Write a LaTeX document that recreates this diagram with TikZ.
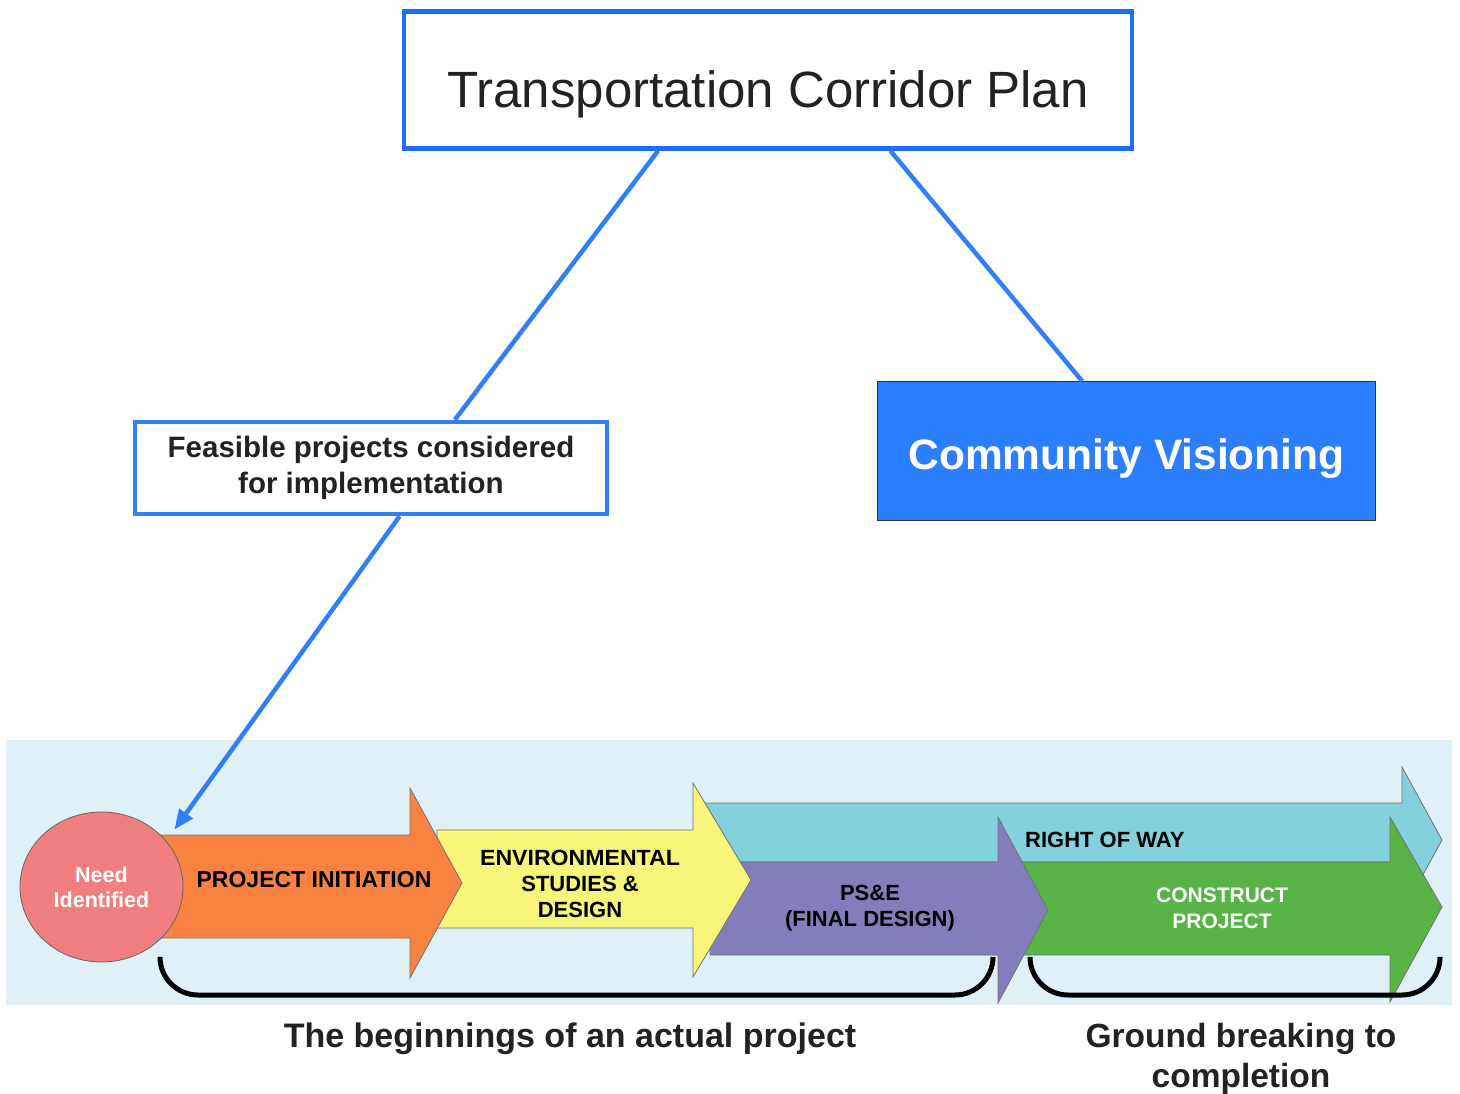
\documentclass[tikz,border=0pt]{standalone}
\usepackage{fontspec}
\setmainfont{Liberation Sans}
\usetikzlibrary{calc,positioning,arrows.meta,shapes.geometric}
\definecolor{boxBlue}{HTML}{1A6EFA}
\definecolor{lineBlue}{HTML}{2F80F7}
\definecolor{visionC}{HTML}{2B7FFF}
\definecolor{panelC}{HTML}{DFF0F7}
\definecolor{needC}{HTML}{F27F7F}
\definecolor{initC}{HTML}{F8823F}
\definecolor{envC}{HTML}{F8F57A}
\definecolor{rowC}{HTML}{82D1DD}
\definecolor{pseC}{HTML}{837EBB}
\definecolor{buildC}{HTML}{58B447}
\definecolor{textC}{HTML}{222222}

\newcommand{\fsz}[1]{\fontsize{#1}{#1}\selectfont}

\begin{document}
\begin{tikzpicture}[x=1pt,y=-1pt,
  planbox/.style={draw=boxBlue,line width=4.5pt,fill=white,inner sep=0pt},
  link/.style={lineBlue,line width=4.5pt},
  stage/.style={draw=black!55,line width=0.8pt},
  stagelabel/.style={font=\bfseries\fontsize{22}{26}\selectfont,align=center,inner sep=0pt},
  bracket/.style={black,line width=5pt,rounded corners=38pt}]
  \useasboundingbox (0,0) rectangle (1460,1094);

  % plan and vision boxes
  \node[planbox,minimum width=728,minimum height=137,text height=56pt,text depth=0pt,
        font=\fsz{51},text=textC] (tcp) at (768,80) {Transportation Corridor Plan};
  \node[planbox,draw=lineBlue,minimum width=472,minimum height=92,align=center,
        font=\bfseries\fontsize{29.5}{36}\selectfont,text=textC] (feas) at (371,468)
    {Feasible projects considered\\for implementation};
  \node[draw=black!80,line width=1pt,fill=visionC,minimum width=498,minimum height=139,
        text height=36pt,text depth=0pt,font=\bfseries\fsz{42.5},text=white] (vision) at (1126.5,451)
    {Community Visioning};

  \draw[link] ($(tcp.south west)!0.35!(tcp.south east)$) -- ($(feas.north west)!0.676!(feas.north east)$);
  \draw[link] ($(tcp.south west)!0.667!(tcp.south east)$) -- ($(vision.north west)!0.411!(vision.north east)$);

  % project development panel
  \fill[panelC] (6,740) rectangle (1452,1005);

  % stage arrows, back to front
  \filldraw[stage,fill=rowC] (705,803) -- (1402,803) -- (1402,767) -- (1442,840)
    -- (1402,913) -- (1402,862) -- (705,862) -- cycle;
  \filldraw[stage,fill=buildC] (1000,862) -- (1390,862) -- (1390,817) -- (1442,907)
    -- (1390,1002) -- (1390,955) -- (1000,955) -- cycle;
  \filldraw[stage,fill=pseC] (710,862) -- (998,862) -- (998,817) -- (1048,910)
    -- (998,1003) -- (998,955) -- (710,955) -- cycle;
  \filldraw[stage,fill=envC] (437,830) -- (693,830) -- (693,783) -- (751,880)
    -- (693,977) -- (693,928) -- (437,928) -- cycle;
  \filldraw[stage,fill=initC] (160,835) -- (410,835) -- (410,788) -- (462,883)
    -- (410,978) -- (410,938) -- (160,938) -- cycle;

  \node[ellipse,draw=black!60,line width=0.8pt,fill=needC,minimum width=163,minimum height=150,
        font=\bfseries\fontsize{21.5}{25}\selectfont,text=white,align=center,inner sep=0pt] (need) at (101.5,887)
    {Need\\Identified};

  \node[stagelabel,font=\bfseries\fsz{23}] (init) at (314,880) {PROJECT INITIATION};
  \node[stagelabel] (env) at (580,884) {\scalebox{1.05}[1]{ENVIRONMENTAL}\\STUDIES \&\\DESIGN};
  \node[stagelabel] (pse) at (870,908) {PS\&E\\(FINAL DESIGN)};
  \node[stagelabel,anchor=west] (row) at (1025,840) {RIGHT OF WAY};
  \node[stagelabel,font=\bfseries\fontsize{21}{26}\selectfont,text=white] (build) at (1222,908)
    {CONSTRUCT\\PROJECT};

  % feasible projects feed the need
  \draw[link,-{Triangle[length=20pt,width=16pt]}] ($(feas.south west)!0.56!(feas.south east)$)
    -- ($(need.north east)+(15,-4)$);

  % brackets and captions
  \draw[bracket] (160,958) -- (160,995) -- (993,995) -- (993,958);
  \draw[bracket] (1030,958) -- (1030,995) -- (1440,995) -- (1440,958);
  \node[font=\bfseries\fsz{34},text=textC] (early) at (570,1039) {The beginnings of an actual project};
  \node[font=\bfseries\fontsize{33.5}{40}\selectfont,text=textC,align=center] (late) at (1241,1059)
    {Ground breaking to\\completion};
\end{tikzpicture}
\end{document}
